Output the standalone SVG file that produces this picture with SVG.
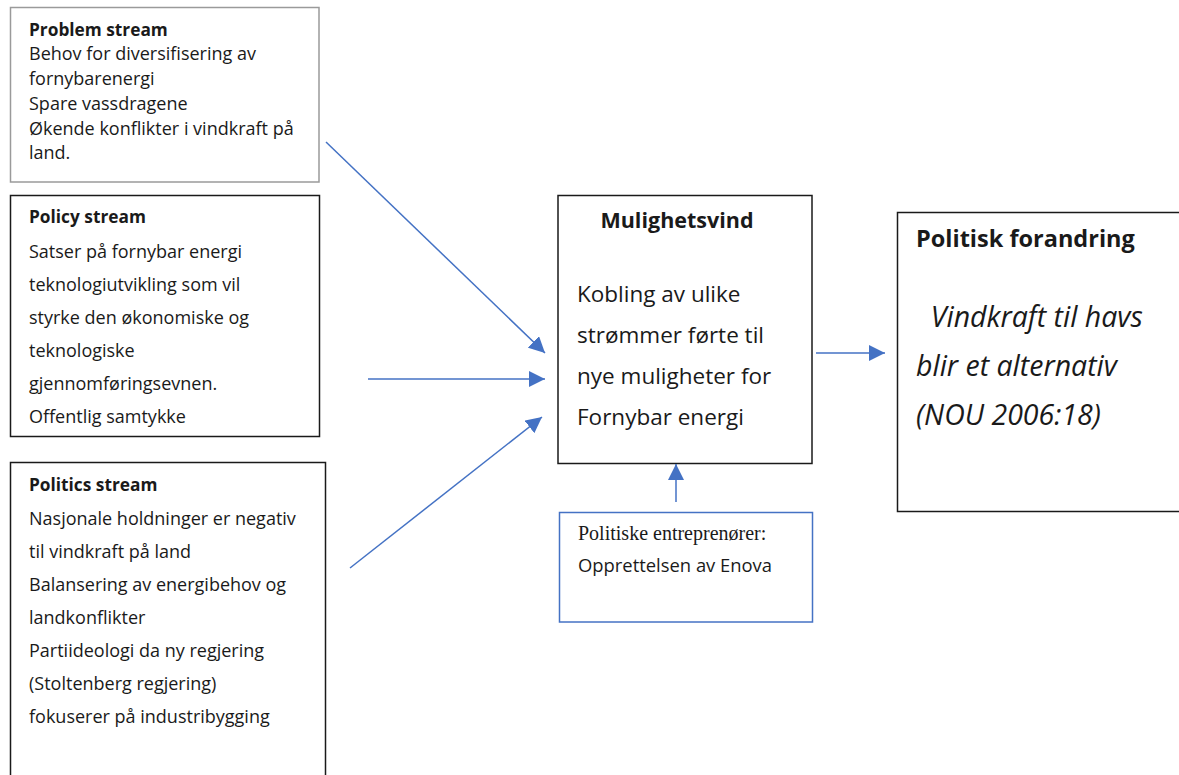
<svg xmlns="http://www.w3.org/2000/svg" width="1179" height="775" viewBox="0 0 1179 775">
<style>
.box{fill:#fff;stroke:#1a1a1a;stroke-width:1.5}
.gbox{fill:#fff;stroke:#9a9a9a;stroke-width:1.5}
.bbox{fill:#fff;stroke:#4472C4;stroke-width:1.5}
text{font-family:"Open Sans",Lato,"Liberation Sans",sans-serif;fill:#1a1a1a}
.t{font-size:18px}
.h{font-size:17.3px;font-weight:bold}
.c{font-size:22.5px}
.ch{font-size:21.5px;font-weight:bold}
.r{font-size:28.5px;font-style:italic}
.rh{font-size:23.5px;font-weight:bold}
.s{font-family:"Liberation Serif","Times New Roman",serif;font-size:20px}
.e{font-size:18.4px}
.conn{stroke:#4472C4;stroke-width:1.5;fill:none;marker-end:url(#ah)}
</style>
<defs>
<marker id="ah" viewBox="0 0 10 10" refX="10" refY="5" markerUnits="userSpaceOnUse" markerWidth="16" markerHeight="16" orient="auto">
<path d="M0,0 L10,5 L0,10 z" fill="#4472C4"/>
</marker>
</defs>
<rect width="1179" height="775" fill="#fff"/>
<g id="problem">
<rect class="gbox" x="10.5" y="7.5" width="308.5" height="174.5"/>
<text class="h" x="29" y="36">Problem stream</text>
<text class="t" x="29" y="60">Behov for diversifisering av</text>
<text class="t" x="29" y="85">fornybarenergi</text>
<text class="t" x="29" y="110">Spare vassdragene</text>
<text class="t" x="29" y="135">Økende konflikter i vindkraft på</text>
<text class="t" x="29" y="159">land.</text>
</g>
<g id="policy">
<rect class="box" x="10.5" y="195.5" width="309" height="241"/>
<text class="h" x="29" y="223">Policy stream</text>
<text class="t" x="29" y="258">Satser på fornybar energi</text>
<text class="t" x="29" y="291">teknologiutvikling som vil</text>
<text class="t" x="29" y="324">styrke den økonomiske og</text>
<text class="t" x="29" y="357">teknologiske</text>
<text class="t" x="29" y="390">gjennomføringsevnen.</text>
<text class="t" x="29" y="423">Offentlig samtykke</text>
</g>
<g id="politics">
<rect class="box" x="10.5" y="462.5" width="315" height="330"/>
<text class="h" x="29" y="491">Politics stream</text>
<text class="t" x="29" y="525">Nasjonale holdninger er negativ</text>
<text class="t" x="29" y="558">til vindkraft på land</text>
<text class="t" x="29" y="591">Balansering av energibehov og</text>
<text class="t" x="29" y="624">landkonflikter</text>
<text class="t" x="29" y="657">Partiideologi da ny regjering</text>
<text class="t" x="29" y="690">(Stoltenberg regjering)</text>
<text class="t" x="29" y="723">fokuserer på industribygging</text>
</g>
<g id="mulighetsvind">
<rect class="box" x="558" y="195.5" width="254" height="268"/>
<text class="ch" x="677" y="228" text-anchor="middle">Mulighetsvind</text>
<text class="c" x="577" y="302">Kobling av ulike</text>
<text class="c" x="577" y="343">strømmer førte til</text>
<text class="c" x="577" y="384">nye muligheter for</text>
<text class="c" x="577" y="425">Fornybar energi</text>
</g>
<g id="entreprenorer">
<rect class="bbox" x="559.5" y="512.5" width="253" height="109.5"/>
<text class="s" x="578" y="540">Politiske entreprenører:</text>
<text class="e" x="578" y="572">Opprettelsen av Enova</text>
</g>
<g id="forandring">
<rect class="box" x="897.5" y="212.5" width="300" height="299"/>
<text class="rh" x="916" y="247">Politisk forandring</text>
<text class="r" x="916" y="327" xml:space="preserve">  Vindkraft til havs</text>
<text class="r" x="916" y="376">blir et alternativ</text>
<text class="r" x="916" y="425">(NOU 2006:18)</text>
</g>
<g id="connectors">
<line class="conn" x1="326" y1="142" x2="545" y2="353"/>
<line class="conn" x1="368" y1="379" x2="545" y2="379"/>
<line class="conn" x1="350" y1="568" x2="542" y2="417"/>
<line class="conn" x1="676" y1="502" x2="676" y2="464"/>
<line class="conn" x1="816" y1="353" x2="885" y2="353"/>
</g>
</svg>
